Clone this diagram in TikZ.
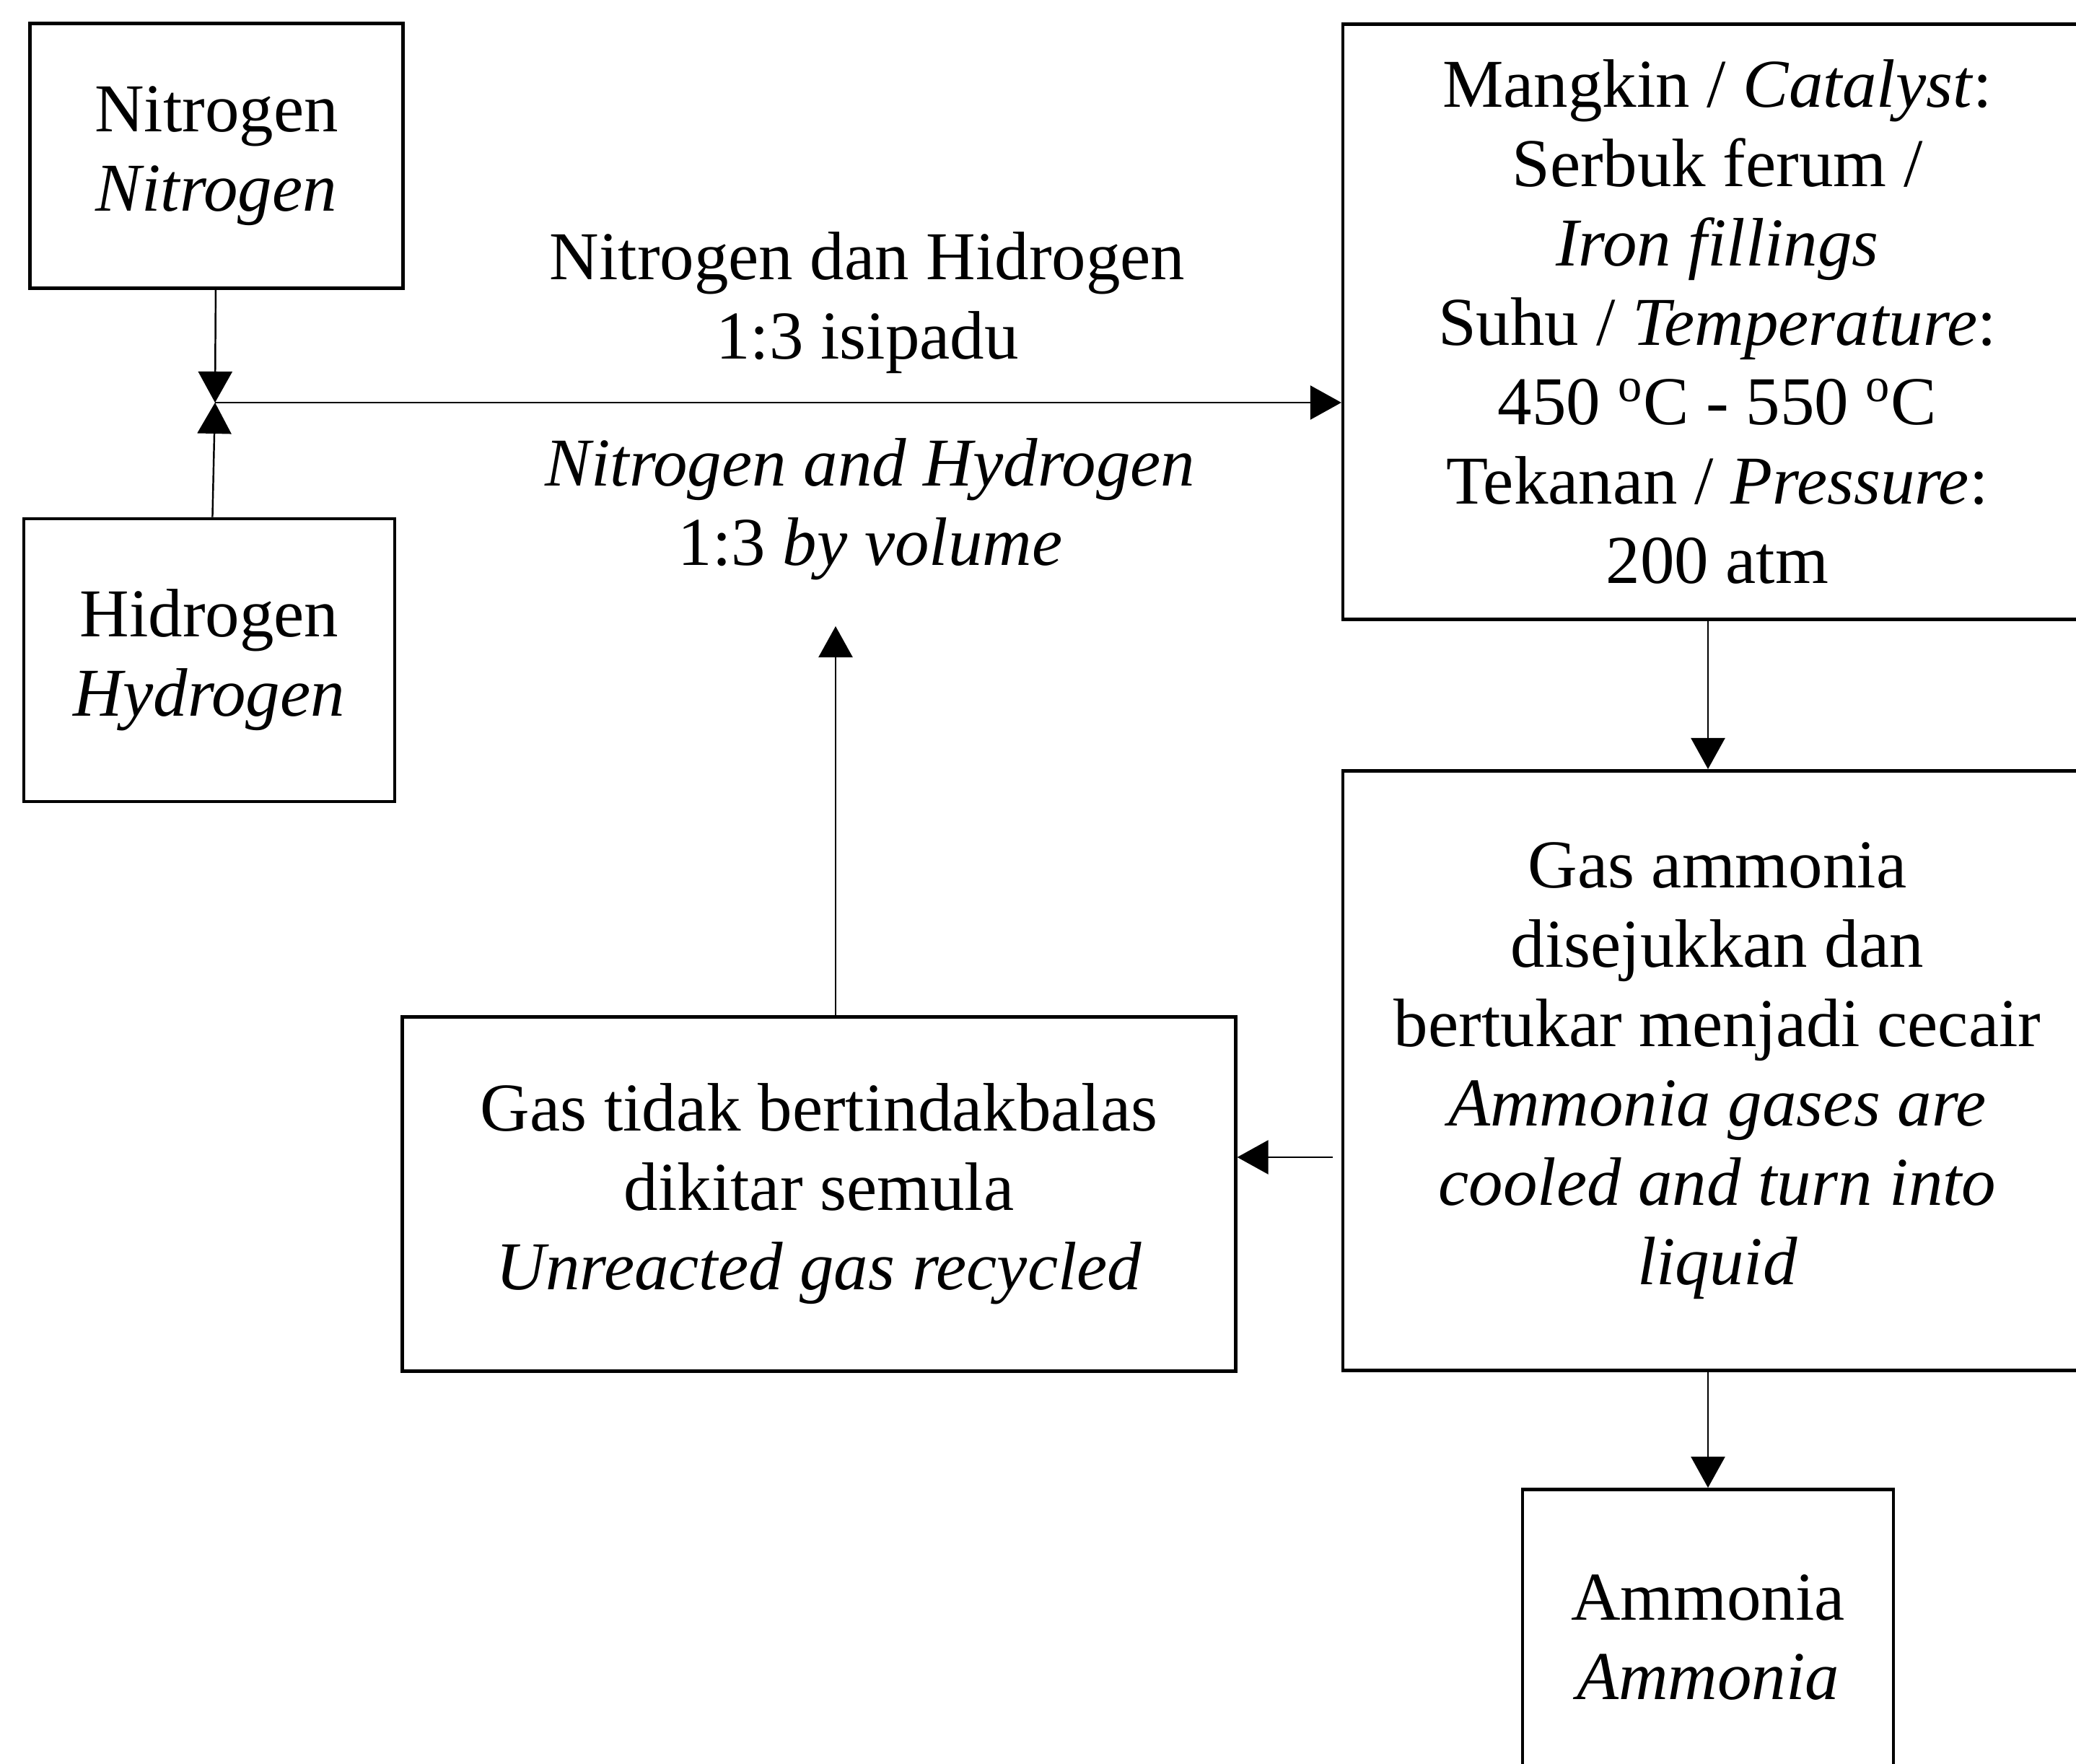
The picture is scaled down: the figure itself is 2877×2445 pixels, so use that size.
\documentclass[tikz,border=0pt]{standalone}
\usepackage{fontspec}
\setmainfont{Liberation Serif}
\usetikzlibrary{arrows.meta}

\begin{document}
\begin{tikzpicture}
		[x=0.01cm,y=-0.01cm,font=\fontsize{27}{31.3}\selectfont,
		main node/.style={shape=rectangle,draw,line width=1.3pt,align=center,inner sep=0pt},
		label node/.style={align=center,inner sep=0pt},
		flow/.style={line width=.7pt,-{Triangle[length=.43cm,width=.47cm]}}]
		\path[use as bounding box,clip] (0,0) rectangle (2877,2445);
		
		\node [main node][minimum width=5.17cm,minimum height=3.67cm] (1) at (300,216) {Nitrogen\\\textit{Nitrogen}};
		\node [main node][minimum width=5.14cm,minimum height=3.92cm] (2) at (290,915) {Hidrogen\\\textit{Hydrogen}};
		
		\node [main node][minimum width=10.37cm,minimum height=8.24cm] (3) at (2380,446) {Mangkin / \textit{Catalyst}:\\Serbuk ferum /\\\textit{Iron fillings}\\Suhu / \textit{Temperature}:\\450 \textsuperscript{o}C - 550 \textsuperscript{o}C\\Tekanan / \textit{Pressure}:\\200 atm};
		\node [main node][minimum width=10.37cm,minimum height=8.31cm] (4) at (2380,1484) {Gas ammonia\\disejukkan dan\\bertukar menjadi cecair\\\textit{Ammonia gases are}\\\textit{cooled and turn into}\\\textit{liquid}};
		\node [main node][minimum width=5.14cm,minimum height=4.11cm] (5) at (2367,2270) {Ammonia\\\textit{Ammonia}};
		
		\node [main node][minimum width=11.54cm,minimum height=4.91cm] (6) at (1135,1655) {Gas tidak bertindakbalas\\dikitar semula\\\textit{Unreacted gas recycled}};
		
		\node [label node] (7) at (1202,420) {Nitrogen dan Hidrogen\\1:3 isipadu};
		\node [label node] (8) at (1206,706) {\textit{Nitrogen and Hydrogen}\\1:3 \textit{by volume}};
		
		\coordinate (j) at (298,558);
		\coordinate (r) at (1158,868);
		\coordinate (a) at ([yshift=.51cm]6.east);
		
		\path[]
		(1) edge[flow] (j)
		(2) edge[flow] (j)
		(j) edge[flow] (j -| 3.west)
		
		(3.south -| 5.north) edge[flow] (4.north -| 5.north)
		(4.south -| 5.north) edge[flow] (5)
		
		([xshift=-.12cm]a -| 4.west) edge[flow] (a)
		(6.north -| r) edge[flow] (r)
		;
		
\end{tikzpicture}
\end{document}
